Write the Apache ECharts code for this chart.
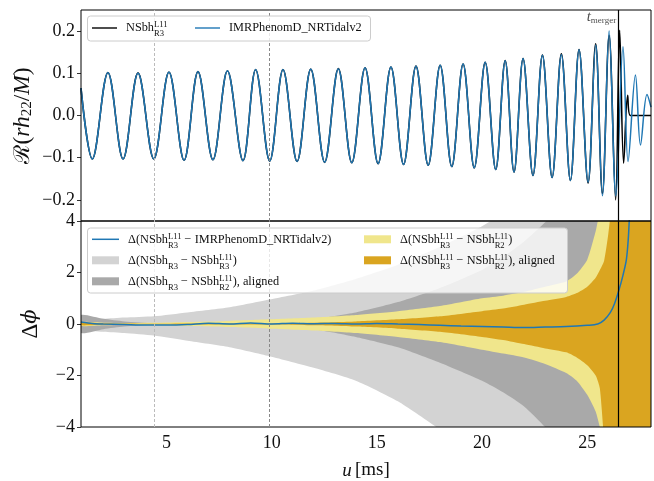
<!DOCTYPE html>
<html>
<head>
<meta charset="utf-8">
<script src="https://cdn.jsdelivr.net/npm/echarts@6/dist/echarts.min.js"></script>
<style>
html, body { margin: 0; padding: 0; background: #fff; }
#chart { width: 654px; height: 481px; }
</style>
</head>
<body>
<div id="chart"></div>
<script>
// ---- axes ----
const uMin = 0.94, uMax = 28.03;
const uTicks = [5, 10, 15, 20, 25];
const hTicks = [-0.2, -0.1, 0.0, 0.1, 0.2];
const phiTicks = [-4, -2, 0, 2, 4];
const tMerger = 26.47;
const alignWindow = [4.4, 9.9];

// ---- top panel: turning points of Re(r h22 / M) ----
const nrU = [0.94, 1.48, 2.22, 2.94, 3.65, 4.40, 5.12, 5.84, 6.50, 7.21, 7.90, 8.64, 9.24, 9.91, 10.54, 11.21, 11.86, 12.52,
  13.17, 13.81, 14.44, 15.06, 15.67, 16.27, 16.86, 17.44, 18.01, 18.56, 19.10, 19.63, 20.15, 20.65, 21.10, 21.52, 21.95,
  22.42, 22.87, 23.33, 23.77, 24.20, 24.61, 25.04, 25.40, 25.72, 26.04, 26.35, 26.54, 26.73, 26.92, 27.05, 28.03];
const nrH = [0.065, -0.103, 0.102, -0.103, 0.101, -0.103, 0.103, -0.106, 0.104, -0.105, 0.106, -0.107, 0.109, -0.108, 0.109, -0.109, 0.110, -0.111,
  0.111, -0.112, 0.113, -0.114, 0.115, -0.116, 0.117, -0.118, 0.119, -0.121, 0.122, -0.124, 0.126, -0.128, 0.130, -0.134, 0.135,
  -0.142, 0.143, -0.147, 0.146, -0.154, 0.156, -0.160, 0.170, -0.185, 0.190, -0.200, 0.202, -0.113, 0.048, 0.0, 0.0];

const phU = [0.94, 1.48, 2.22, 2.94, 3.65, 4.40, 5.12, 5.84, 6.50, 7.21, 7.90, 8.64, 9.24, 9.91, 10.54, 11.21, 11.86, 12.52,
  13.17, 13.81, 14.44, 15.06, 15.67, 16.27, 16.86, 17.44, 18.01, 18.56, 19.10, 19.63, 20.15, 20.65, 21.10, 21.52, 21.95,
  22.42, 22.87, 23.33, 23.77, 24.20, 24.61, 25.04, 25.40, 25.72, 26.04, 26.36, 26.70, 26.94, 27.29, 27.53, 27.84, 28.03];
const phH = [0.065, -0.103, 0.102, -0.103, 0.101, -0.103, 0.103, -0.106, 0.104, -0.105, 0.106, -0.107, 0.109, -0.108, 0.109, -0.109, 0.110, -0.111,
  0.111, -0.112, 0.113, -0.114, 0.115, -0.116, 0.117, -0.118, 0.119, -0.121, 0.122, -0.124, 0.126, -0.128, 0.130, -0.134, 0.135,
  -0.142, 0.143, -0.147, 0.144, -0.154, 0.156, -0.158, 0.167, -0.190, 0.200, -0.190, 0.163, -0.109, 0.096, -0.070, 0.050, 0.02];

// ---- bottom panel: phase difference NSbh^L11_R3 - IMRPhenomD_NRTidalv2 ----
const dU   = [0.94, 1.5, 2, 3, 4, 5, 6, 7, 8, 9, 10, 11, 12, 13, 14, 15, 16, 17, 18, 19, 20, 21, 22, 23, 24, 25,
  25.5, 25.8, 26.1, 26.3, 26.5, 26.7, 26.86, 26.95, 27.0];
const dPhi = [0.08, 0.02, 0.0, -0.02, -0.04, -0.04, -0.02, 0.03, 0.0, 0.04, 0.0, 0.03, 0.01, 0.02, 0.0, 0.02, 0.0, -0.02, -0.05, -0.08, -0.10, -0.12, -0.14, -0.12, -0.10, -0.05,
  0.0, 0.15, 0.45, 0.8, 1.3, 1.9, 2.5, 3.3, 4.1];

// ---- bottom panel: resolution / alignment error bands ----
const bandU   = [0.94, 2, 3, 4.4, 6, 8, 9.9, 12, 14, 16, 18, 20, 21, 22, 23, 24, 24.5, 25, 25.4, 25.6, 25.8, 26.0, 26.2, 26.5, 28.03];
const lightLo = [-0.2, -0.3, -0.35, -0.45, -0.65, -0.9, -1.25, -1.7, -2.2, -3.0, -4.1, -5.3, -6.0, -7.0, -8.0, -9.0, -9.5, -10, -10, -10, -10, -10, -10, -10, -10];
const lightHi = [0.15, 0.2, 0.25, 0.3, 0.45, 0.65, 0.95, 1.3, 1.75, 2.3, 3.0, 3.8, 4.3, 4.9, 5.5, 6.2, 6.6, 7.0, 7.4, 7.6, 7.8, 8.2, 8.5, 9.0, 10];
const darkLo  = [-0.35, -0.2, -0.1, -0.03, -0.05, -0.05, -0.05, -0.2, -0.5, -0.9, -1.5, -2.2, -2.65, -3.2, -4.0, -4.9, -5.4, -6.0, -6.5, -6.8, -7.0, -7.5, -8, -8, -10];
const darkHi  = [0.35, 0.2, 0.1, 0.03, 0.05, 0.05, 0.05, 0.2, 0.45, 0.85, 1.4, 2.1, 2.6, 3.2, 3.95, 4.8, 5.3, 5.9, 6.4, 6.7, 6.9, 7.4, 8, 8, 10];
const khakiLo = [-0.08, -0.05, -0.04, -0.05, -0.08, -0.12, -0.18, -0.25, -0.35, -0.5, -0.7, -1.0, -1.15, -1.3, -1.55, -1.9, -2.2, -2.75, -3.4, -4.0, -4.6, -5.5, -6.5, -8, -10];
const khakiHi = [0.08, 0.05, 0.04, 0.05, 0.08, 0.12, 0.18, 0.25, 0.35, 0.5, 0.7, 1.0, 1.1, 1.25, 1.45, 1.65, 1.95, 2.5, 3.6, 4.4, 5.0, 5.8, 6.5, 8, 10];
const goldLo  = [-0.05, -0.03, -0.02, -0.01, -0.02, -0.02, -0.02, -0.05, -0.1, -0.18, -0.3, -0.5, -0.62, -0.78, -0.95, -1.1, -1.3, -1.6, -2.0, -2.5, -4.6, -8, -10, -10, -10];
const goldHi  = [0.05, 0.03, 0.02, 0.01, 0.02, 0.02, 0.02, 0.05, 0.1, 0.18, 0.3, 0.5, 0.6, 0.75, 0.9, 1.05, 1.2, 1.45, 1.8, 2.1, 2.45, 3.5, 5.0, 10, 10];

// ---- styling ----
const SERIF = '"Liberation Serif", "DejaVu Serif", serif';
const BLUE = '#1f77b4';
const LIGHT = '#d3d3d3', DARK = '#a9a9a9', KHAKI = '#f0e68c', GOLD = '#daa520';
const TXT = '#111';

const zip = (xs, ys) => xs.map((x, i) => [x, ys[i]]);
const minus = s => String(s).replace('-', '\u2212');

const rich = {
  n: { fontFamily: SERIF, fontSize: 12.3, color: TXT },
  g: { fontFamily: SERIF, fontSize: 12.3, width: 4 },
  p: { fontFamily: SERIF, fontSize: 8.6, color: TXT, verticalAlign: 'top', height: 15 },
  b: { fontFamily: SERIF, fontSize: 8.6, color: TXT, verticalAlign: 'bottom', height: 9, width: 0 },
  bb: { fontFamily: SERIF, fontSize: 8.6, color: TXT, verticalAlign: 'bottom', height: 9 }
};
const nsbhL11 = r => '{n|NSbh}{b|' + r + '}{p|L11}';
const nsbh = r => '{n|NSbh}{bb|' + r + '}';
const legendText = {
  nr: '{g| }' + nsbhL11('R3'),
  ph: '{g| }{n|IMRPhenomD_NRTidalv2}',
  delta: '{g| }{n|\u0394(}' + nsbhL11('R3') + '{n| \u2212 IMRPhenomD_NRTidalv2)}',
  light: '{g| }{n|\u0394(}' + nsbh('R3') + '{n| \u2212 }' + nsbhL11('R3') + '{n|)}',
  dark: '{g| }{n|\u0394(}' + nsbh('R3') + '{n| \u2212 }' + nsbhL11('R2') + '{n|), aligned}',
  khaki: '{g| }{n|\u0394(}' + nsbhL11('R3') + '{n| \u2212 }' + nsbhL11('R2') + '{n|)}',
  gold: '{g| }{n|\u0394(}' + nsbhL11('R3') + '{n| \u2212 }' + nsbhL11('R2') + '{n|), aligned}'
};
const LINE_ICON = 'path://M0,0M27,8M0,3.25L27,3.25L27,4.75L0,4.75Z';

// filled region between two curves sampled on bandU, clipped to the lower grid
function band(key, lo, hi, color) {
  return {
    type: 'custom', name: key, coordinateSystem: 'cartesian2d', xAxisIndex: 1, yAxisIndex: 1,
    clip: true, silent: true, color: color, data: [[bandU[0], 0]],
    renderItem: (params, api) => {
      const upper = bandU.map((u, i) => api.coord([u, hi[i]]));
      const lower = bandU.map((u, i) => api.coord([u, lo[i]])).reverse();
      return { type: 'polygon', shape: { points: upper.concat(lower), smooth: 0.2 },
        style: { fill: color, stroke: null } };
    }
  };
}

const vlines = () => ({
  silent: true, symbol: 'none', animation: false, label: { show: false },
  data: [
    { xAxis: alignWindow[0], lineStyle: { color: '#bbb', type: [3, 2], width: 1 } },
    { xAxis: alignWindow[1], lineStyle: { color: '#888', type: [3, 2], width: 1 } },
    { xAxis: tMerger, lineStyle: { color: '#000', type: 'solid', width: 1.2 } }
  ]
});

const axisFont = { fontFamily: SERIF, fontSize: 18, color: TXT };

const chart = echarts.init(document.getElementById('chart'), null, { renderer: 'canvas' });
chart.setOption({
  animation: false,
  backgroundColor: '#fff',
  grid: [
    { left: 81, top: 10, width: 570, height: 211, show: true, borderColor: '#000', borderWidth: 1, backgroundColor: 'transparent', z: 3 },
    { left: 81, top: 221, width: 570, height: 212, show: true, borderColor: '#000', borderWidth: 1, backgroundColor: 'transparent', z: 3 }
  ],
  xAxis: [
    { type: 'value', gridIndex: 0, min: uMin, max: uMax, axisLine: { show: false },
      axisTick: { show: false }, axisLabel: { show: false }, splitLine: { show: false } },
    { type: 'value', gridIndex: 1, min: uMin, max: uMax, axisLine: { show: false },
      axisTick: { show: true, customValues: uTicks, length: 4, lineStyle: { color: '#000', width: 0.8 } },
      axisLabel: { show: true, customValues: uTicks, margin: 7, ...axisFont },
      splitLine: { show: false },
      name: '{i|u} {n|[ms]}', nameLocation: 'middle', nameGap: 34, nameMoveOverlap: false,
      nameTextStyle: { rich: { i: { fontFamily: SERIF, fontSize: 19, fontStyle: 'italic', color: TXT }, n: { fontFamily: SERIF, fontSize: 19, color: TXT } } } }
  ],
  yAxis: [
    { type: 'value', gridIndex: 0, min: -0.25, max: 0.25, axisLine: { show: false },
      axisTick: { show: true, customValues: hTicks, length: 4, lineStyle: { color: '#000', width: 0.8 } },
      axisLabel: { show: true, customValues: hTicks, margin: 6, formatter: v => minus(v.toFixed(1)), ...axisFont },
      splitLine: { show: false },
      name: '{r|\u211B}{n|(}{i|rh}{s|22}{n|/}{i|M}{n|)}', nameLocation: 'middle', nameGap: 46, nameRotate: 90, nameMoveOverlap: false,
      nameTextStyle: { rich: {
        r: { fontFamily: '"DejaVu Serif", serif', fontSize: 22, color: TXT },
        n: { fontFamily: SERIF, fontSize: 23.5, color: TXT },
        i: { fontFamily: SERIF, fontSize: 23.5, fontStyle: 'italic', color: TXT },
        s: { fontFamily: SERIF, fontSize: 15, color: TXT, verticalAlign: 'bottom', height: 15 } } } },
    { type: 'value', gridIndex: 1, min: -4, max: 4, interval: 2, axisLine: { show: false },
      axisTick: { show: true, length: 4, lineStyle: { color: '#000', width: 0.8 } },
      axisLabel: { show: true, margin: 6, formatter: v => minus(v), ...axisFont },
      splitLine: { show: false },
      name: '{n|\u0394}{i|\u03D5}', nameLocation: 'middle', nameGap: 39, nameRotate: 90, nameMoveOverlap: false,
      nameTextStyle: { rich: {
        n: { fontFamily: SERIF, fontSize: 23, color: TXT },
        i: { fontFamily: '"DejaVu Serif", serif', fontSize: 21, fontStyle: 'italic', color: TXT } } } }
  ],
  legend: [
    { left: 92, top: 17.5, padding: 0, itemWidth: 25, itemHeight: 8, selectedMode: false, z: 10,
      data: [{ name: 'nr', icon: LINE_ICON, itemStyle: { color: '#000', borderWidth: 0 } }],
      formatter: n => legendText[n], textStyle: { rich: rich, lineHeight: 21 } },
    { left: 195, top: 17.5, padding: 0, itemWidth: 25, itemHeight: 8, selectedMode: false, z: 10,
      data: [{ name: 'ph', icon: LINE_ICON, itemStyle: { color: BLUE, borderWidth: 0 } }],
      formatter: n => legendText[n], textStyle: { rich: rich, lineHeight: 21 } },
    { left: 92, top: 228.8, orient: 'vertical', padding: 0, itemGap: 0, itemWidth: 27, itemHeight: 8, selectedMode: false, z: 10,
      data: [
        { name: 'delta', icon: LINE_ICON, itemStyle: { color: BLUE, borderWidth: 0 } },
        { name: 'light', icon: 'rect', itemStyle: { color: LIGHT, borderWidth: 0 } },
        { name: 'dark', icon: 'rect', itemStyle: { color: DARK, borderWidth: 0 } }
      ],
      formatter: n => legendText[n], textStyle: { rich: rich, lineHeight: 21 } },
    { left: 364, top: 228.8, orient: 'vertical', padding: 0, itemGap: 0, itemWidth: 27, itemHeight: 8, selectedMode: false, z: 10,
      data: [
        { name: 'khaki', icon: 'rect', itemStyle: { color: KHAKI, borderWidth: 0 } },
        { name: 'gold', icon: 'rect', itemStyle: { color: GOLD, borderWidth: 0 } }
      ],
      formatter: n => legendText[n], textStyle: { rich: rich, lineHeight: 21 } }
  ],
  graphic: [
    { type: 'rect', z: 9, silent: true, shape: { x: 87.5, y: 16, width: 283, height: 25, r: 3 },
      style: { fill: 'rgba(255,255,255,0.8)', stroke: '#ccc', lineWidth: 1 } },
    { type: 'rect', z: 9, silent: true, shape: { x: 87.5, y: 228, width: 480, height: 65, r: 3 },
      style: { fill: 'rgba(255,255,255,0.8)', stroke: '#ccc', lineWidth: 1 } }
  ],
  series: [
    { type: 'line', name: 'nr', xAxisIndex: 0, yAxisIndex: 0, data: zip(nrU, nrH), smooth: 0.36,
      symbol: 'none', color: '#000', lineStyle: { color: '#000', width: 1.6 }, z: 2 },
    { type: 'line', name: 'ph', xAxisIndex: 0, yAxisIndex: 0, data: zip(phU, phH), smooth: 0.36,
      symbol: 'none', color: BLUE, lineStyle: { color: BLUE, width: 1.5 }, z: 2, markLine: vlines() },
    { type: 'scatter', name: 'tmerger', xAxisIndex: 0, yAxisIndex: 0, data: [[tMerger, 0.233]], symbolSize: 0, silent: true,
      label: { show: true, position: 'left', distance: 2, formatter: '{t|t}{s|merger}',
        rich: { t: { fontFamily: SERIF, fontSize: 15, fontStyle: 'italic', color: '#222' },
                s: { fontFamily: SERIF, fontSize: 9, color: '#222', verticalAlign: 'bottom', height: 9 } } } },
    band('light', lightLo, lightHi, LIGHT),
    band('dark', darkLo, darkHi, DARK),
    band('khaki', khakiLo, khakiHi, KHAKI),
    band('gold', goldLo, goldHi, GOLD),
    { type: 'line', name: 'delta', xAxisIndex: 1, yAxisIndex: 1, data: zip(dU, dPhi), smooth: 0.3,
      symbol: 'none', color: BLUE, lineStyle: { color: BLUE, width: 1.5 }, z: 2, markLine: vlines() }
  ]
});
</script>
</body>
</html>
